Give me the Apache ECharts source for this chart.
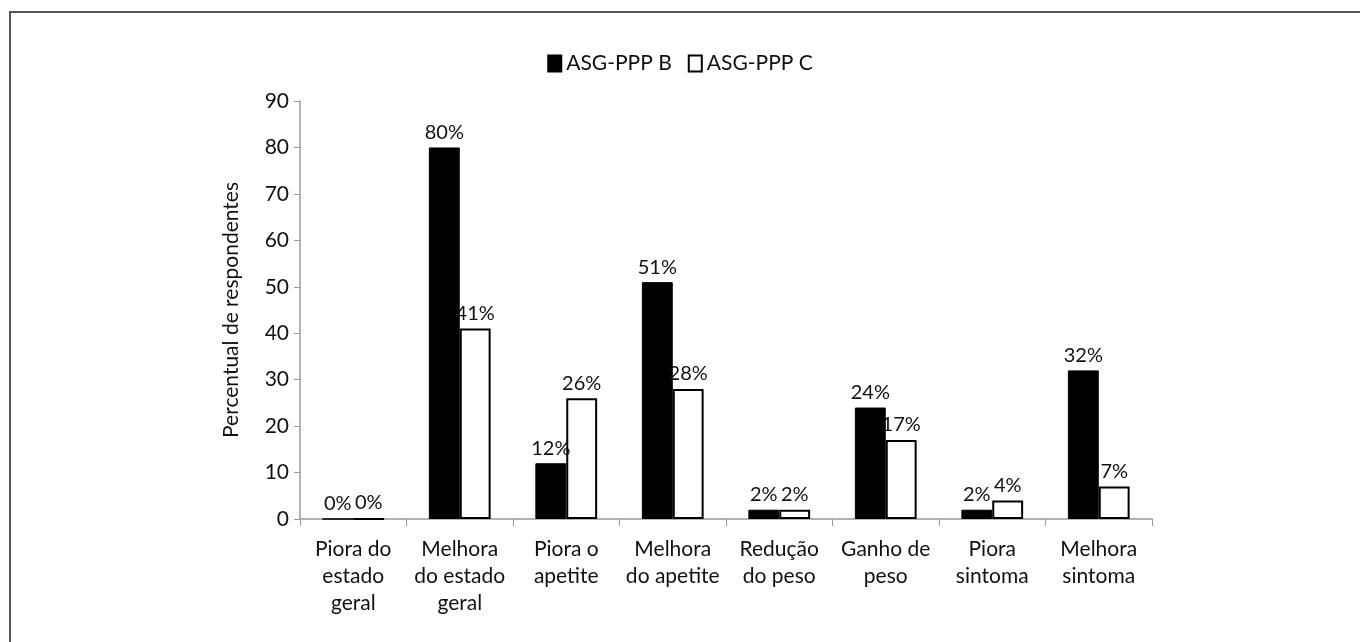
<!DOCTYPE html>
<html>
<head>
<meta charset="utf-8">
<script src="https://cdn.jsdelivr.net/npm/echarts@6/dist/echarts.min.js"></script>
<style>
html,body{margin:0;padding:0;background:#fff;}
#chart{width:1360px;height:642px;}
</style>
</head>
<body>
<div id="chart"></div>
<script>
// dados do gráfico
var categorias = ['Piora do\nestado\ngeral', 'Melhora\ndo estado\ngeral', 'Piora o\napetite', 'Melhora\ndo apetite', 'Redução\ndo peso', 'Ganho de\npeso', 'Piora\nsintoma', 'Melhora\nsintoma'];
var serieB = [0, 80, 12, 51, 2, 24, 2, 32];
var serieC = [0, 41, 26, 28, 2, 17, 4, 7];
var nomesSeries = ['ASG-PPP B', 'ASG-PPP C'];
var fonte = 'Lato, "Open Sans", sans-serif';

var chart = echarts.init(document.getElementById('chart'));
var labelCfg = {
    show: true,
    position: 'top',
    formatter: '{c}%',
    color: '#111',
    fontFamily: fonte,
    fontSize: 20,
    distance: 5
};
var option = {
    backgroundColor: '#fff',
    animation: false,
    textStyle: {fontFamily: fonte},
    graphic: [{
        type: 'rect',
        shape: {x: 10, y: 12, width: 1400, height: 700},
        style: {fill: 'none', stroke: '#555', lineWidth: 2},
        silent: true
    }],
    legend: {
        top: 48,
        left: 'center',
        icon: 'rect',
        itemWidth: 13,
        itemHeight: 16,
        itemGap: 16,
        textStyle: {fontFamily: fonte, fontSize: 21, color: '#111'},
        data: nomesSeries
    },
    grid: {left: 300, right: 208, top: 101, bottom: 123},
    xAxis: {
        type: 'category',
        data: categorias,
        axisLine: {lineStyle: {color: '#999', width: 1.5}},
        axisTick: {show: true, length: 7, lineStyle: {color: '#999'}},
        axisLabel: {
            color: '#111',
            fontFamily: fonte,
            fontSize: 21,
            lineHeight: 27,
            margin: 17,
            interval: 0
        }
    },
    yAxis: {
        type: 'value',
        min: 0,
        max: 90,
        interval: 10,
        name: 'Percentual de respondentes',
        nameLocation: 'middle',
        nameGap: 58,
        nameTextStyle: {color: '#111', fontFamily: fonte, fontSize: 21},
        splitLine: {show: false},
        axisLine: {show: true, lineStyle: {color: '#999', width: 1.5}},
        axisTick: {show: true, length: 6, lineStyle: {color: '#999'}},
        axisLabel: {color: '#111', fontFamily: fonte, fontSize: 21, margin: 11}
    },
    series: [
        {
            name: nomesSeries[0],
            type: 'bar',
            data: serieB,
            barGap: '0%',
            barCategoryGap: '42%',
            itemStyle: {color: '#000', borderColor: '#000', borderWidth: 1},
            label: labelCfg
        },
        {
            name: nomesSeries[1],
            type: 'bar',
            data: serieC,
            itemStyle: {color: '#fff', borderColor: '#000', borderWidth: 2},
            label: labelCfg
        }
    ]
};
chart.setOption(option);
</script>
</body>
</html>
